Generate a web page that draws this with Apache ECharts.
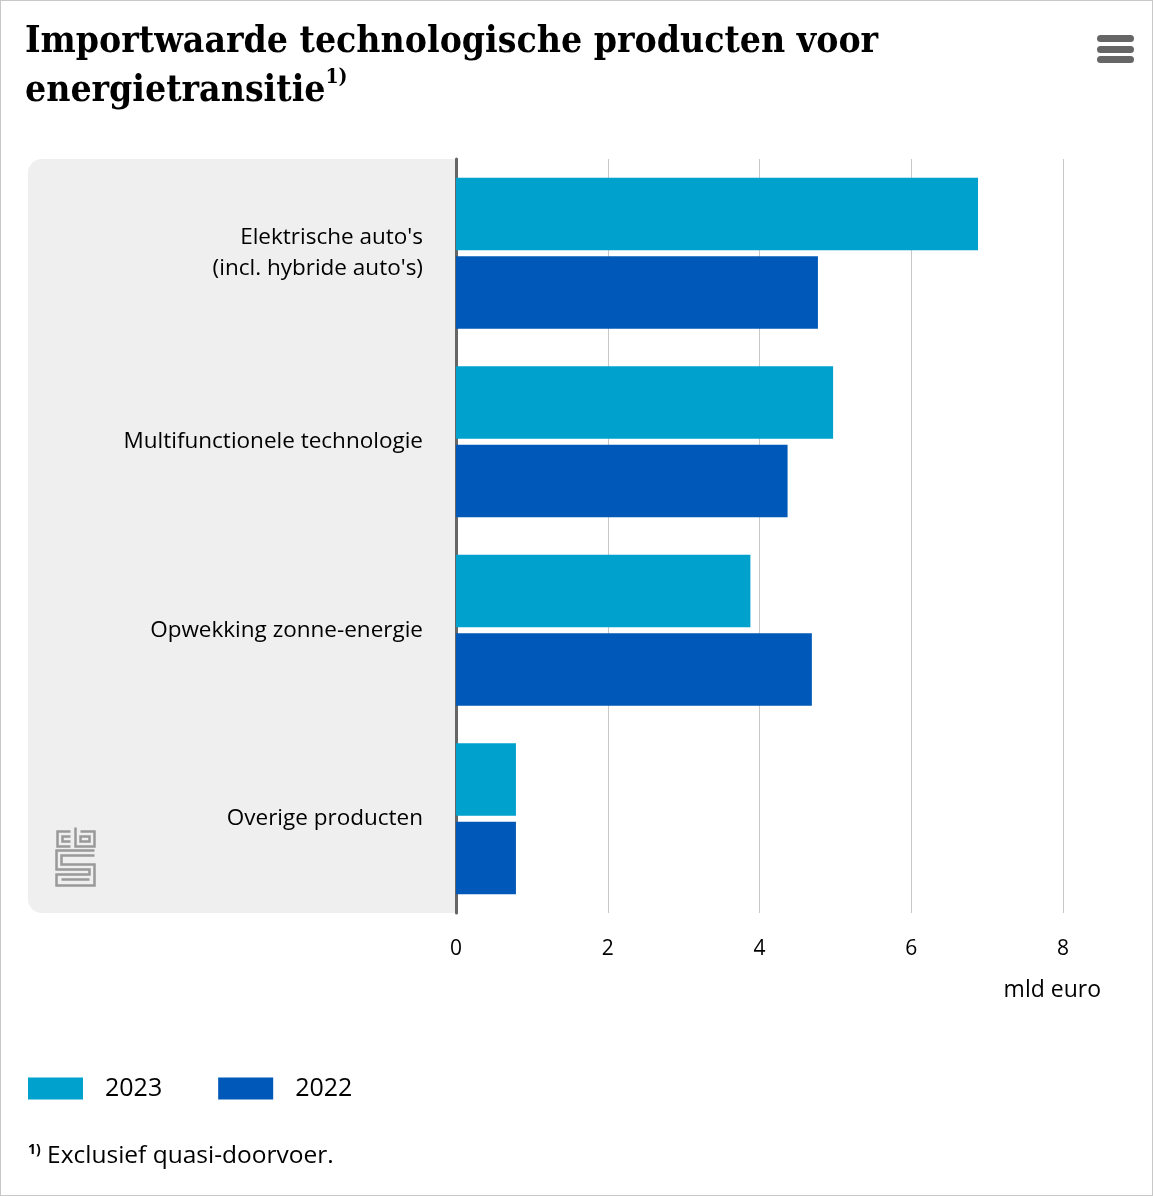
<!DOCTYPE html>
<html><head><meta charset="utf-8">
<script src="https://cdn.jsdelivr.net/npm/echarts@6/dist/echarts.min.js"></script>
<style>html,body{margin:0;padding:0;background:#fff}#c{width:1153px;height:1196px;box-sizing:border-box;border:1px solid #c8c8c8}</style>
</head><body><div id="c"></div>
<script>
const categories = ["Elektrische auto's\n(incl. hybride auto's)", "Multifunctionele technologie", "Opwekking zonne-energie", "Overige producten"];
const values2023 = [6.88, 4.97, 3.88, 0.79];
const values2022 = [4.77, 4.37, 4.69, 0.79];
const xTicks = [0, 2, 4, 6, 8];
const seriesNames = ['2023', '2022'];

const chart = echarts.init(document.getElementById('c'), null, {renderer: 'canvas'});
const labelFont = "'Open Sans', 'Noto Sans', sans-serif";
const GL = 455, GT = 158, GB = 912, GR = 1062;
const option = {
  animation: false,
  color: ['#00a1cd', '#0058b8'],
  title: {
    text: 'Importwaarde technologische producten voor\nenergietransitie{s|1)}',
    left: 24, top: 17, padding: 0,
    textStyle: {
      fontFamily: "'DejaVu Serif Condensed', 'DejaVu Serif', serif",
      fontWeight: 'bold', fontSize: 37, lineHeight: 49, color: '#000',
      rich: { s: {fontFamily: "'DejaVu Serif Condensed', serif", fontWeight: 'bold', fontSize: 21, verticalAlign: 'top', lineHeight: 49, padding: [0,0,14,0], color: '#000'} }
    }
  },
  legend: {
    left: 27, top: 1075, padding: 0, itemWidth: 55, itemHeight: 22, itemGap: 56,
    icon: 'rect',
    textStyle: {fontFamily: labelFont, fontSize: 25, color: '#000', padding: [0,0,0,17]},
    data: seriesNames
  },
  grid: {left: GL, top: GT, width: GR - GL, height: GB - GT, containLabel: false},
  xAxis: {
    type: 'value', min: 0, max: 8, interval: 2,
    axisLine: {show: false}, axisTick: {show: false},
    splitLine: {lineStyle: {color: '#c8c8c8', width: 1}},
    axisLabel: {fontFamily: labelFont, fontSize: 21, color: '#000', margin: 26,
      formatter: v => xTicks.includes(v) ? String(v) : ''}
  },
  yAxis: {
    type: 'category', data: categories, inverse: true,
    axisLine: {show: true, lineStyle: {color: '#666', width: 3}},
    axisTick: {show: false},
    axisLabel: {fontFamily: labelFont, fontSize: 22.5, color: '#000', margin: 33, lineHeight: 31, align: 'right', padding: [4,0,0,0]}
  },
  series: [
    {name: seriesNames[0], type: 'bar', data: values2023, barGap: '8%', barCategoryGap: '20%', z: 3},
    {name: seriesNames[1], type: 'bar', data: values2022, barGap: '8%', barCategoryGap: '20%', z: 3}
  ],
  graphic: [
    {type: 'rect', z: -10, shape: {x: 27, y: GT, width: GL - 27, height: GB - GT, r: [14, 0, 0, 14]}, style: {fill: '#efefef'}},
    {type: 'text', right: 51, top: 978, style: {text: 'mld euro', font: "23px 'Open Sans', sans-serif", fill: '#000'}},
    {type: 'text', left: 27, top: 1142, style: {text: '{s|1)} Exclusief quasi-doorvoer.', font: "24.5px 'Open Sans', sans-serif", fill: '#000',
      rich: {s: {fontSize: 14, fontFamily: 'Open Sans', fontWeight: 'bold', verticalAlign: 'top', padding: [0,0,12,0]}}}},
    // menu icon
    {type: 'rect', shape: {x: 1096, y: 34, width: 37, height: 7, r: 3.5}, style: {fill: '#666'}},
    {type: 'rect', shape: {x: 1096, y: 45, width: 37, height: 7, r: 3.5}, style: {fill: '#666'}},
    {type: 'rect', shape: {x: 1096, y: 55, width: 37, height: 7, r: 3.5}, style: {fill: '#666'}},
    // cbs logo (approximation)
    {type: 'group', left: 53, top: 824, children: [
      {type: 'polyline', shape: {points: [[15,5],[2,5],[2,20],[15,20]]}, style: {stroke: '#999', lineWidth: 2.5, fill: null}},
      {type: 'polyline', shape: {points: [[15,10],[7,10],[7,15],[15,15]]}, style: {stroke: '#999', lineWidth: 2.5, fill: null}},
      {type: 'polyline', shape: {points: [[20,1],[20,20],[39,20],[39,5],[25,5]]}, style: {stroke: '#999', lineWidth: 2.5, fill: null}},
      {type: 'rect', shape: {x: 25, y: 10, width: 9, height: 5}, style: {stroke: '#999', lineWidth: 2.5, fill: null}},
      {type: 'polyline', shape: {points: [[39,24],[1,24],[1,43],[34,43],[34,48],[1,48],[1,59],[39,59],[39,38],[6,38],[6,29],[39,29]]}, style: {stroke: '#999', lineWidth: 2.5, fill: null}},
      {type: 'polyline', shape: {points: [[6,53],[34,53]]}, style: {stroke: '#999', lineWidth: 2.5, fill: null}}
    ]}
  ]
};
chart.setOption(option);
</script></body></html>
